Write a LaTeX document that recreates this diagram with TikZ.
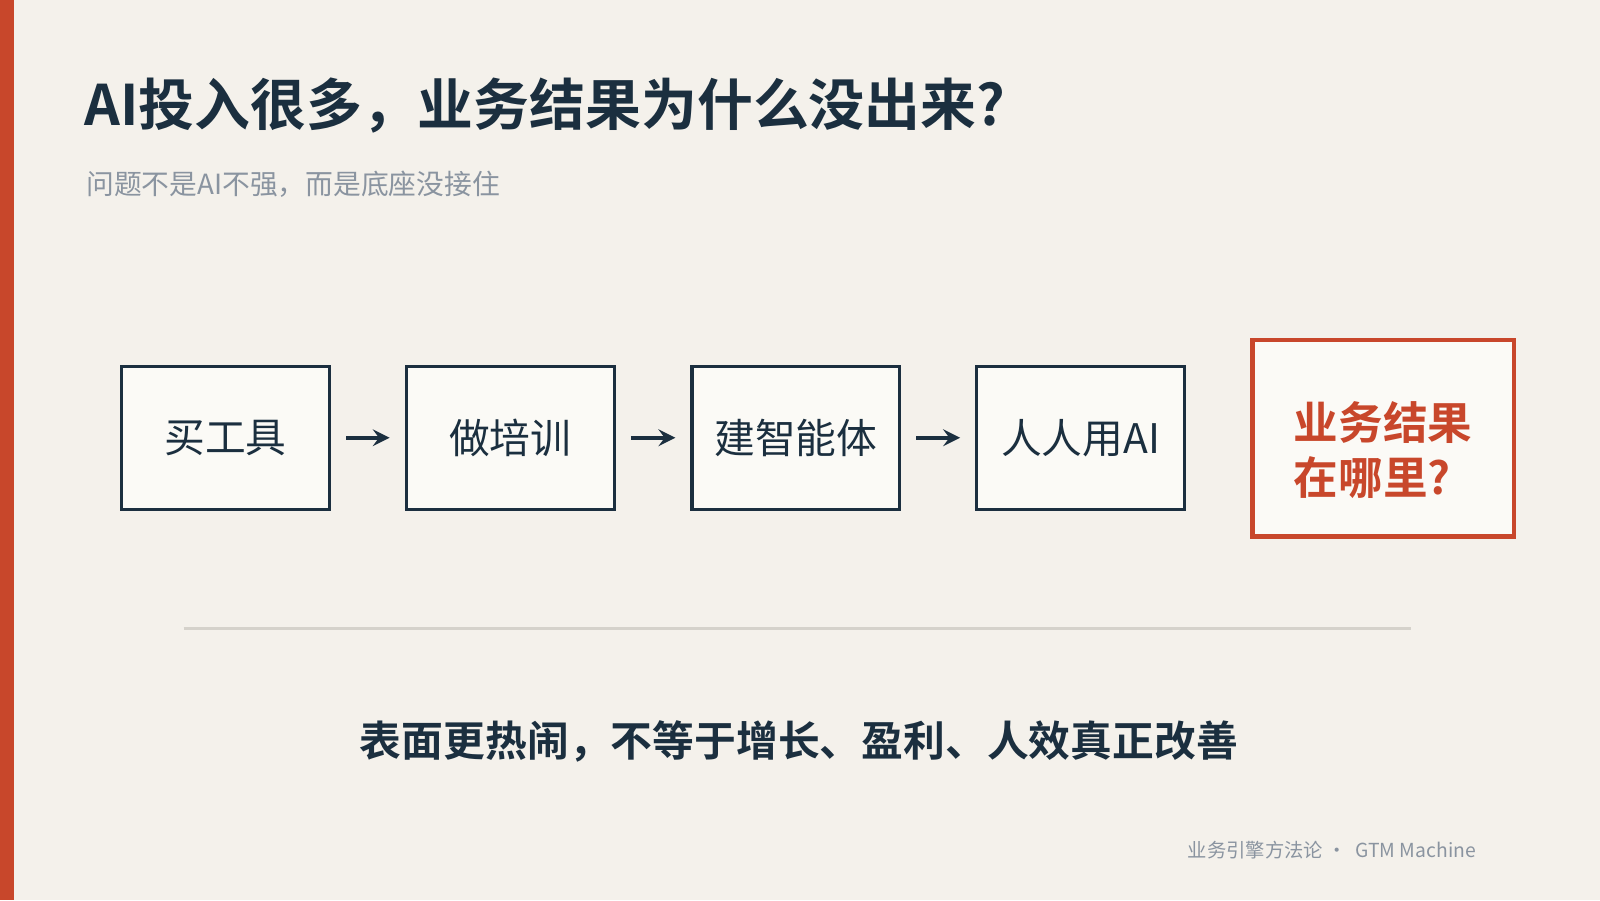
\documentclass[tikz,border=0pt]{standalone}
\usepackage{fontspec}
\setmainfont{Noto Sans CJK SC}
\newfontfamily\cjkbold{Noto Sans CJK SC Bold}
\usetikzlibrary{positioning}
\definecolor{bgcol}{HTML}{F4F1EB}
\definecolor{ink}{HTML}{1B2F3F}
\definecolor{rust}{HTML}{C8472B}
\definecolor{mute}{HTML}{8A94A0}
\definecolor{rulecol}{HTML}{D5D2CB}
\definecolor{boxfill}{HTML}{FBFAF6}
\tikzset{
  stage/.style={draw=ink, line width=0.9pt, fill=boxfill, minimum width=2.08cm,
    minimum height=1.43cm, text=ink, font=\fontsize{11.6}{13}\selectfont},
  goal/.style={draw=rust, line width=1.3pt, fill=boxfill, minimum width=2.62cm,
    minimum height=1.97cm, text=rust, align=left,
    font=\cjkbold\fontsize{12.7}{15.5}\selectfont},
  flow/.style={->, >=stealth, ink, line width=1.1pt}
}
\begin{document}
\begin{tikzpicture}[x=0.010204cm, y=-0.010204cm]
\useasboundingbox (0,0) rectangle (1568,882);
\fill[bgcol] (0,0) rectangle (1568,882);
\fill[rust] (0,0) rectangle (14,882);
% title
\node[anchor=west, text=ink, font=\cjkbold\fontsize{15.9}{18}\selectfont, inner sep=0]
  (title) at (82,103) {AI投入很多，业务结果为什么没出来?};
\node[anchor=west, text=mute, font=\fontsize{7.9}{9}\selectfont, inner sep=0]
  (sub) at (84,181) {问题不是AI不强，而是底座没接住};
% chain
\node[stage] (buy) at (221,429) {买工具};
\node[stage] (train) at (500,429) {做培训};
\node[stage] (agent) at (780,429) {建智能体};
\node[stage] (use) at (1059,429) {人人用AI};
\node[goal] (result) at (1355.5,429.5) {};
\node[text=rust, align=left, font=\cjkbold\fontsize{12.7}{15.5}\selectfont]
  (resultText) at (1355.5,441) {业务结果\\在哪里?};
\draw[flow] ([xshift=0.15cm]buy.east) -- ([xshift=-0.15cm]train.west);
\draw[flow] ([xshift=0.15cm]train.east) -- ([xshift=-0.15cm]agent.west);
\draw[flow] ([xshift=0.15cm]agent.east) -- ([xshift=-0.15cm]use.west);
% rule and summary
\coordinate (ruleL) at (180,616);
\coordinate (ruleR) at (1383,616);
\draw[rulecol, line width=0.9pt] (ruleL) -- (ruleR);
\node[text=ink, font=\cjkbold\fontsize{11.9}{13}\selectfont]
  (summary) at (783,727) {表面更热闹，不等于增长、盈利、人效真正改善};
\node[anchor=east, text=mute, font=\fontsize{5.5}{6}\selectfont, inner sep=0]
  (foot) at (1447,833) {业务引擎方法论 · \ GTM Machine};
\end{tikzpicture}
\end{document}
